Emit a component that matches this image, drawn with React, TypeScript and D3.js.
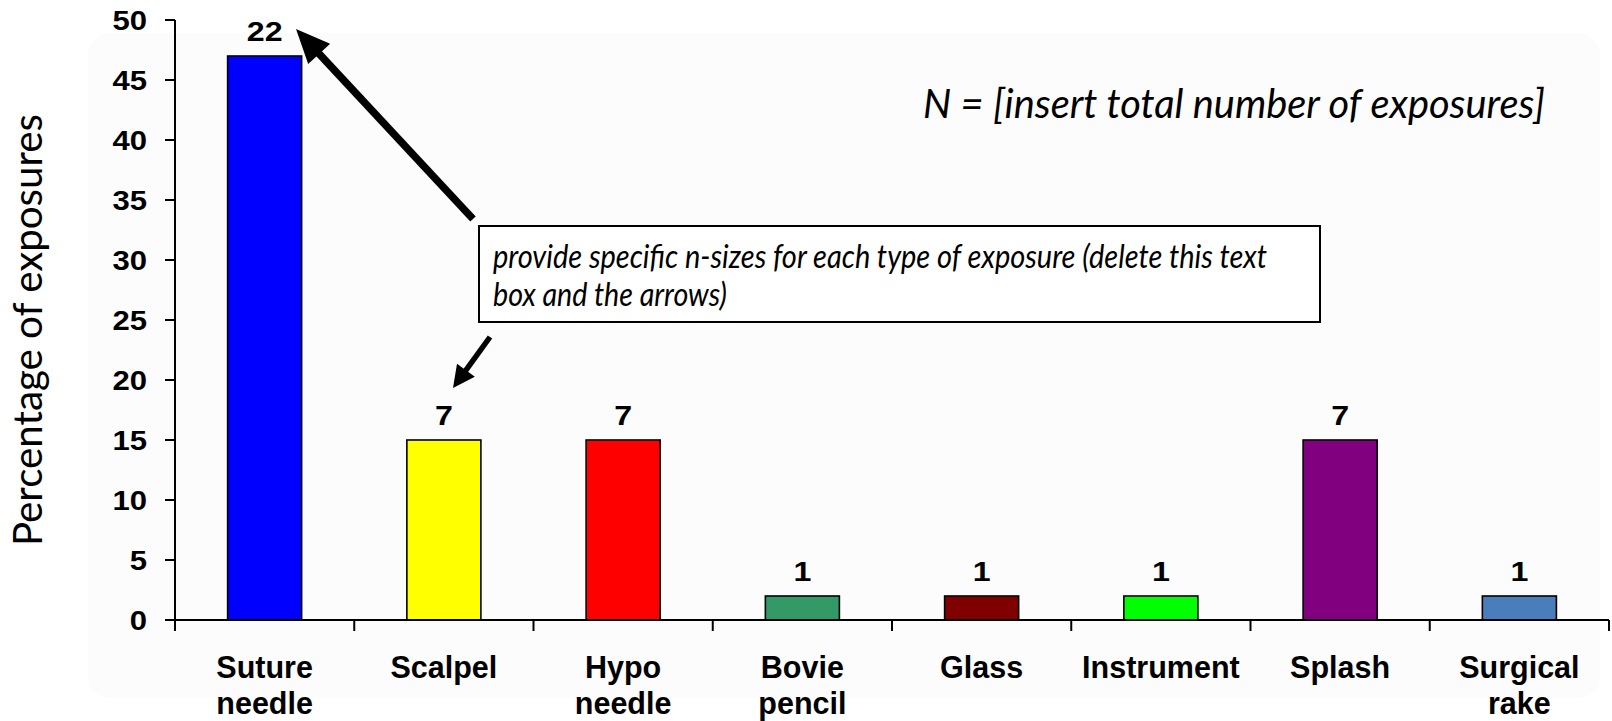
import React from "react";
import * as d3 from "d3";

const categories = ["Suture needle", "Scalpel", "Hypo needle", "Bovie pencil", "Glass", "Instrument", "Splash", "Surgical rake"];
const categoryLines = [["Suture", "needle"], ["Scalpel"], ["Hypo", "needle"], ["Bovie", "pencil"], ["Glass"], ["Instrument"], ["Splash"], ["Surgical", "rake"]];
const percentages = [47, 15, 15, 2, 2, 2, 15, 2];
const counts = ["22", "7", "7", "1", "1", "1", "7", "1"];
const barColors = ["#0000FF", "#FFFF00", "#FF0000", "#339966", "#800000", "#00FF00", "#800080", "#4A7EBB"];
const yTicks = [0, 5, 10, 15, 20, 25, 30, 35, 40, 45, 50];
const yTitle = "Percentage of exposures";
const nText = "N = [insert total number of exposures]";
const noteLines = ["provide specific n-sizes for each type of exposure (delete this text", "box and the arrows)"];

const W = 1612, H = 721;
const plotLeft = 175, plotRight = 1609, plotTop = 20, plotBottom = 620;
const ARIAL = "'Liberation Sans', Arial, sans-serif";
const GILL = "Lato, 'Open Sans', sans-serif";

function Arrow({ x1, y1, x2, y2, w, hl, hw }: { x1: number; y1: number; x2: number; y2: number; w: number; hl: number; hw: number }) {
  const dx = x2 - x1, dy = y2 - y1;
  const len = Math.sqrt(dx * dx + dy * dy);
  const ux = dx / len, uy = dy / len;
  const bx = x2 - ux * hl, by = y2 - uy * hl;
  const px = -uy, py = ux;
  const pts = [[x2, y2], [bx + px * hw, by + py * hw], [bx - px * hw, by - py * hw]];
  return (
    <g>
      <line x1={x1} y1={y1} x2={bx + ux * 2} y2={by + uy * 2} stroke="#000" strokeWidth={w} />
      <polygon points={pts.map((p) => p.join(",")).join(" ")} fill="#000" />
    </g>
  );
}

export default function App() {
  const x = d3.scaleBand<string>().domain(categories).range([plotLeft, plotRight]).padding(0);
  const y = d3.scaleLinear().domain([0, 50]).range([plotBottom, plotTop]);
  const bw = x.bandwidth();
  const barW = bw * 0.413;
  const boundaries = [...categories.map((c) => x(c) as number), plotRight];

  return (
    <svg width={W} height={H} style={{ position: "absolute", left: 0, top: 0, background: "#fff" }}>
      <rect x={0} y={0} width={W} height={H} fill="#ffffff" />
      <rect x={88} y={33} width={1512} height={665} rx={22} fill="#fcfcfc" />

      {/* bars */}
      {categories.map((c, i) => (
        <rect
          key={c}
          x={(x(c) as number) + (bw - barW) / 2}
          y={y(percentages[i])}
          width={barW}
          height={y(0) - y(percentages[i])}
          fill={barColors[i]}
          stroke="#000"
          strokeWidth={1.6}
        />
      ))}

      {/* value labels */}
      {categories.map((c, i) => {
        const cx = (x(c) as number) + bw / 2;
        const cy = y(percentages[i]) - 15;
        return (
          <text
            key={c}
            transform={`translate(${cx},${cy}) scale(1.15,1)`}
            textAnchor="middle"
            fontFamily={ARIAL}
            fontWeight="bold"
            fontSize={28}
            fill="#000"
          >
            {counts[i]}
          </text>
        );
      })}

      {/* y axis */}
      <line x1={plotLeft} y1={plotTop} x2={plotLeft} y2={plotBottom + 10} stroke="#000" strokeWidth={2} />
      {yTicks.map((t) => (
        <g key={t}>
          <line x1={plotLeft - 10} x2={plotLeft} y1={y(t)} y2={y(t)} stroke="#000" strokeWidth={2} />
          <text
            transform={`translate(${147},${y(t) + 9.5}) scale(1.15,1)`}
            textAnchor="end"
            fontFamily={ARIAL}
            fontWeight="bold"
            fontSize={27}
            fill="#000"
          >
            {t}
          </text>
        </g>
      ))}

      {/* x axis */}
      <line x1={plotLeft - 10} y1={plotBottom} x2={plotRight} y2={plotBottom} stroke="#000" strokeWidth={2} />
      {boundaries.map((b, i) => (
        <line key={i} x1={b} x2={b} y1={plotBottom} y2={plotBottom + 11} stroke="#000" strokeWidth={2} />
      ))}
      {categories.map((c, i) => (
        <text key={c} textAnchor="middle" fontFamily={ARIAL} fontWeight="bold" fontSize={30.5} fill="#000">
          {categoryLines[i].map((ln, j) => (
            <tspan key={j} x={(x(c) as number) + bw / 2} y={678 + j * 36}>
              {ln}
            </tspan>
          ))}
        </text>
      ))}

      {/* y title */}
      <text
        transform={`translate(42,330) rotate(-90)`}
        textAnchor="middle"
        fontFamily={GILL}
        fontSize={40}
        textLength={432}
        lengthAdjust="spacingAndGlyphs"
        fill="#000"
      >
        {yTitle}
      </text>

      {/* N annotation */}
      <text x={923} y={118} fontFamily={GILL} fontStyle="italic" fontSize={40} textLength={622} lengthAdjust="spacingAndGlyphs" fill="#000">
        {nText}
      </text>

      {/* note box */}
      <rect x={479} y={226} width={841} height={96} fill="#fff" stroke="#000" strokeWidth={2} />
      <text x={493} y={268} fontFamily={GILL} fontStyle="italic" fontSize={33} textLength={774} lengthAdjust="spacingAndGlyphs" fill="#000">
        {noteLines[0]}
      </text>
      <text x={493} y={306} fontFamily={GILL} fontStyle="italic" fontSize={33} textLength={234} lengthAdjust="spacingAndGlyphs" fill="#000">
        {noteLines[1]}
      </text>

      {/* arrows */}
      <Arrow x1={473} y1={219} x2={296} y2={29} w={7.5} hl={34} hw={15} />
      <Arrow x1={490} y1={337} x2={453} y2={388} w={5.5} hl={22} hw={11} />
    </svg>
  );
}
